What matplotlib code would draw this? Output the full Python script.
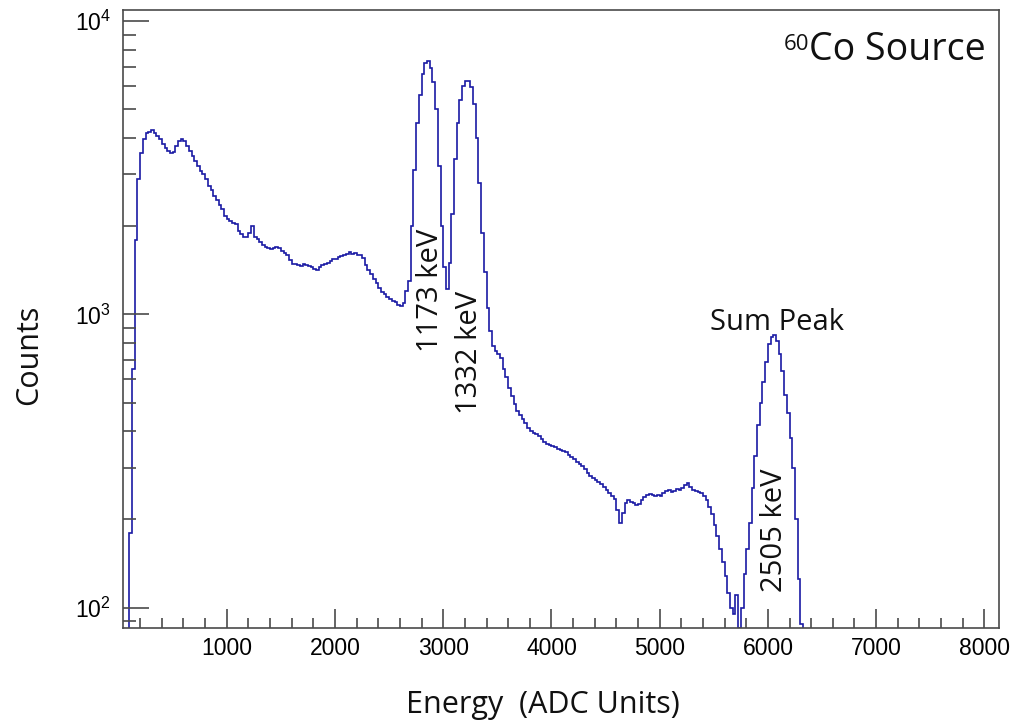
import numpy as np
import matplotlib
matplotlib.use("Agg")
import matplotlib.pyplot as plt
import matplotlib.ticker as ticker

# 60Co spectrum, counts per 25 ADC-unit bin
bin_start = 50
bin_width = 25
counts = [
    30, 60, 180, 650, 1800, 2900, 3550, 3950, 4150, 4200,
    4250, 4150, 4050, 3950, 3800, 3700, 3620, 3550, 3580, 3750,
    3900, 3950, 3900, 3750, 3620, 3480, 3330, 3200, 3080, 3020,
    2900, 2750, 2650, 2540, 2450, 2360, 2280, 2170, 2110, 2080,
    2050, 2030, 1920, 1880, 1840, 1830, 1900, 2000, 1830, 1810,
    1760, 1720, 1700, 1690, 1670, 1680, 1700, 1690, 1650, 1620,
    1600, 1530, 1490, 1480, 1470, 1460, 1480, 1470, 1460, 1450,
    1430, 1420, 1450, 1470, 1490, 1500, 1520, 1540, 1550, 1570,
    1580, 1600, 1610, 1630, 1610, 1620, 1600, 1590, 1560, 1470,
    1420, 1370, 1320, 1280, 1230, 1190, 1170, 1150, 1130, 1110,
    1100, 1080, 1070, 1090, 1200, 1300, 2000, 3100, 4500, 5600,
    6600, 7200, 7300, 6900, 6200, 5000, 3200, 2000, 1450, 1220,
    1500, 2200, 3400, 4500, 5400, 6000, 6250, 6250, 5950, 5200,
    4000, 2800, 1900, 1400, 1050, 880, 780, 750, 730, 710,
    650, 610, 560, 525, 495, 470, 455, 440, 425, 410,
    400, 395, 390, 385, 375, 368, 362, 358, 355, 352,
    348, 345, 342, 338, 332, 326, 320, 314, 310, 305,
    296, 288, 282, 276, 272, 268, 264, 258, 252, 246,
    240, 235, 215, 195, 210, 228, 232, 230, 228, 224,
    226, 232, 238, 242, 244, 242, 240, 243, 241, 246,
    250, 252, 248, 250, 253, 251, 256, 262, 265, 258,
    252, 250, 248, 245, 240, 232, 220, 208, 192, 175,
    158, 143, 128, 112, 100, 95, 110, 85, 100, 130,
    158, 195, 255, 330, 420, 500, 590, 690, 790, 840,
    850, 810, 730, 640, 530, 460, 380, 300, 200, 125,
    88, 60,
]

peak_labels = ["1173 keV", "1332 keV", "2505 keV"]
peak_label_pos = [(2880, 1208), (3245, 742), (6063, 183)]

edges = bin_start + bin_width * np.arange(len(counts) + 1)

plt.rcParams['font.family'] = ['Liberation Sans', 'DejaVu Sans']
plt.rcParams['mathtext.fontset'] = 'custom'
plt.rcParams['mathtext.rm'] = 'Liberation Sans'
plt.rcParams['mathtext.it'] = 'Liberation Sans:italic'

fig = plt.figure(figsize=(10.18, 7.28), dpi=100)
ax = fig.add_axes([0.121, 0.137, 0.860, 0.849])

ax.stairs(counts, edges, baseline=None, color="#1a1aa4", linewidth=1.2)

ax.set_yscale("log")
ax.set_xlim(43, 8132)
ax.set_ylim(85, 10900)

ax.xaxis.set_major_locator(ticker.MultipleLocator(1000))
ax.xaxis.set_minor_locator(ticker.MultipleLocator(200))
ax.yaxis.set_minor_formatter(ticker.NullFormatter())

frame_col = "#4a4a4a"
for sp in ax.spines.values():
    sp.set_color(frame_col)
    sp.set_linewidth(1.2)

ax.tick_params(axis="x", which="major", direction="in", length=14, width=1.2,
               color=frame_col, labelsize=16.5, pad=6)
ax.tick_params(axis="x", which="minor", direction="in", length=7, width=1.2,
               color=frame_col)
ax.tick_params(axis="y", which="major", direction="in", length=19, width=1.2,
               color=frame_col, labelsize=16.5, pad=9)
ax.tick_params(axis="y", which="minor", direction="in", length=9, width=1.2,
               color=frame_col)

lab_font = ['Open Sans', 'DejaVu Sans']

fig.text(0.533, 0.032, "Energy  (ADC Units)", family=lab_font, fontsize=22,
         ha="center", va="center", color="#111111")
fig.text(0.029, 0.512, "Counts", family=lab_font, fontsize=22, rotation=90,
         ha="center", va="center", color="#111111")

for lab, (xv, yv) in zip(peak_labels, peak_label_pos):
    ax.text(xv, yv, lab, family=lab_font, fontsize=21, rotation=90,
            ha="center", va="center", color="#111111")

ax.text(6080, 939, "Sum Peak", family=lab_font, fontsize=21,
        ha="center", va="center", color="#111111")

src = ax.text(0.985, 0.935, "Co Source", transform=ax.transAxes, family=lab_font,
              fontsize=27, ha="right", va="center", color="#111111")
ax.annotate("60", xy=(0, 0.92), xycoords=src, family=lab_font, fontsize=16,
            ha="right", va="top", color="#111111")

fig.savefig("out.png", dpi=100)
